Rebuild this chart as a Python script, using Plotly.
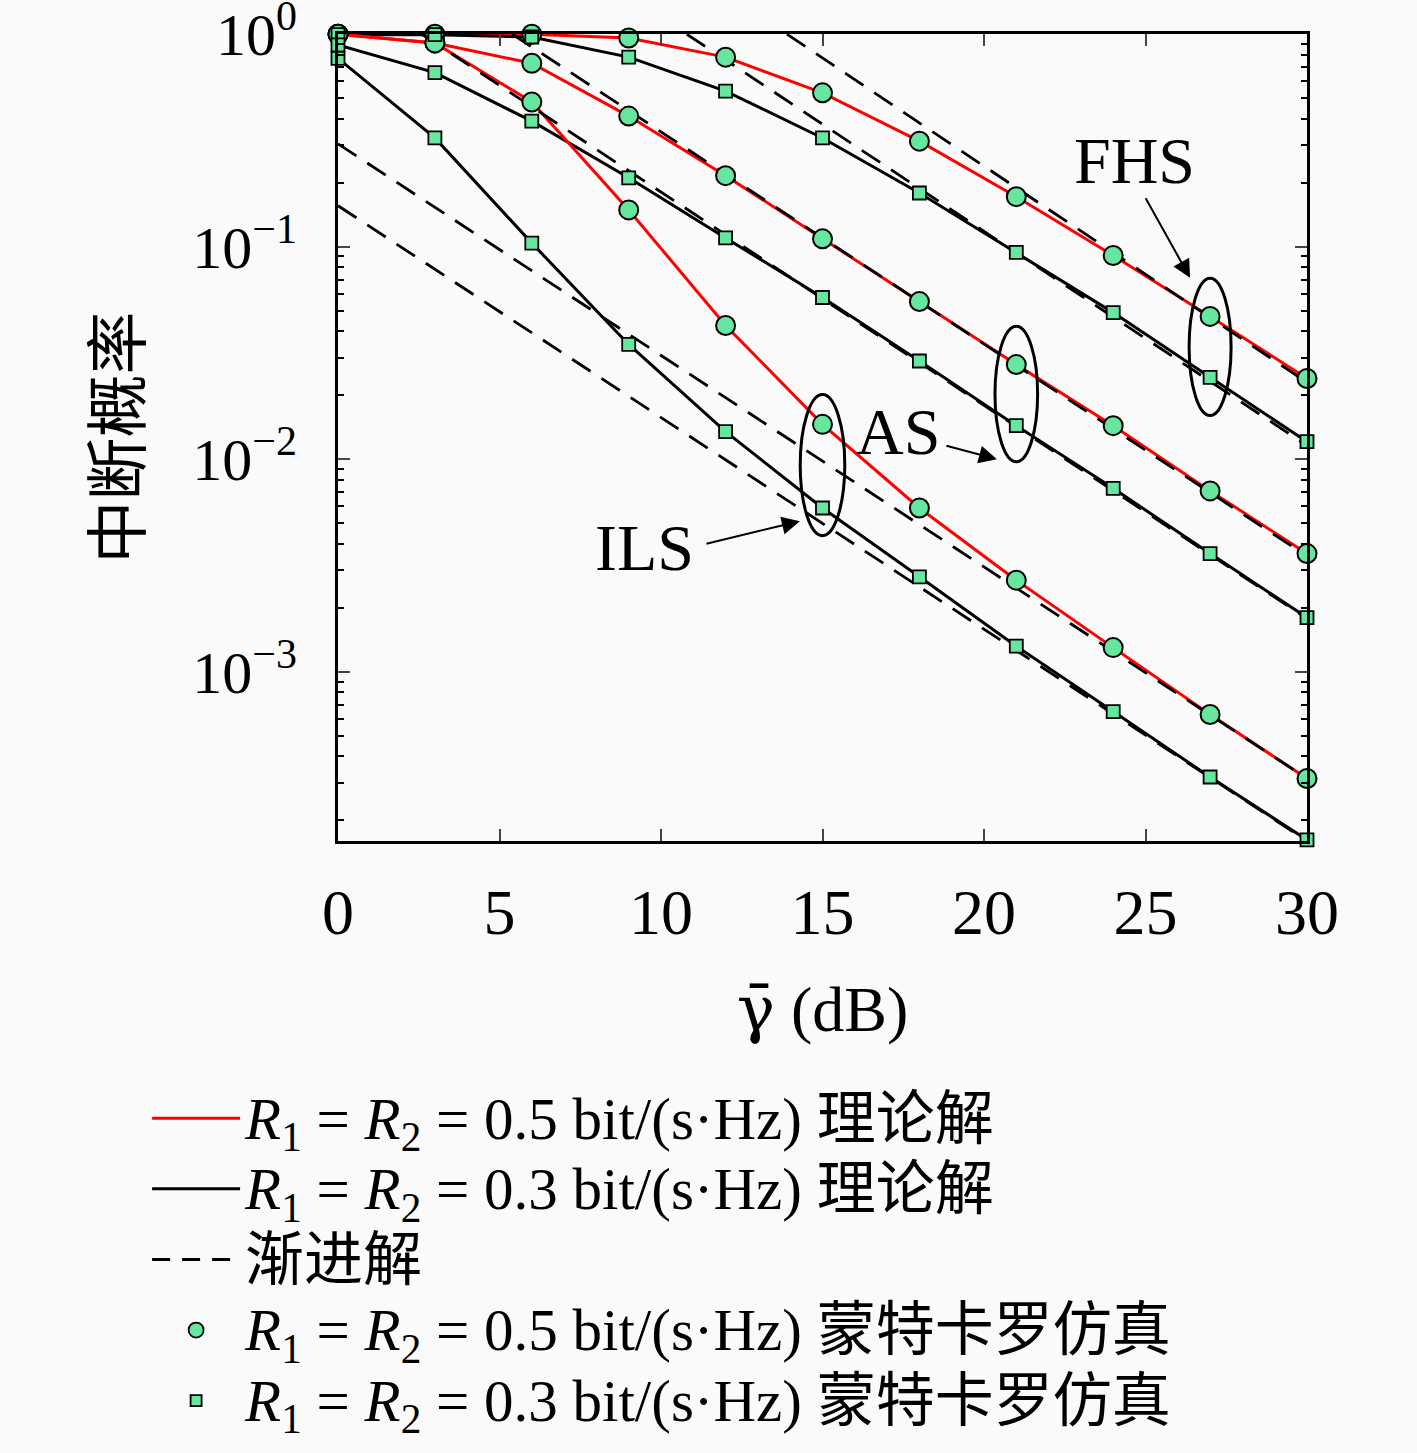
import math
import plotly.graph_objects as go

# ---------------- data ----------------
snr = [0, 3, 6, 9, 12, 15, 18, 21, 24, 27, 30]

fhs_05 = [1.0, 1.0, 1.0, 0.96, 0.78, 0.53, 0.314, 0.172, 0.091, 0.047, 0.024]
fhs_03 = [0.995, 0.995, 0.97, 0.78, 0.54, 0.325, 0.179, 0.094, 0.049, 0.0243, 0.0121]
as_05 = [1.0, 0.91, 0.73, 0.412, 0.216, 0.109, 0.0552, 0.0279, 0.0144, 0.0071, 0.0036]
as_03 = [0.89, 0.66, 0.39, 0.211, 0.110, 0.0577, 0.0290, 0.0144, 0.0073, 0.0036, 0.0018]
ils_05 = [1.0, 0.91, 0.48, 0.149, 0.0426, 0.0146, 0.0059, 0.0027, 0.00130, 0.00063, 0.000315]
ils_03 = [0.77, 0.325, 0.104, 0.0347, 0.0135, 0.0059, 0.0028, 0.00132, 0.00065, 0.00032, 0.000162]

# asymptotes (straight lines on the log scale): start / end points
asym_fhs05_x = [13.9, 30]
asym_fhs05_y = [1.0, 0.0230]
asym_fhs03_x = [10.8, 30]
asym_fhs03_y = [1.0, 0.0116]
asym_as05_x = [5.4, 30]
asym_as05_y = [1.0, 0.0035]
asym_as03_x = [2.6, 30]
asym_as03_y = [1.0, 0.00178]
asym_ils05_x = [0, 30]
asym_ils05_y = [0.305, 0.000315]
asym_ils03_x = [0, 30]
asym_ils03_y = [0.156, 0.000160]

x_ticks = [0, 5, 10, 15, 20, 25, 30]
y_ticks = [1, 0.1, 0.01, 0.001]
y_ticktext = ["10<sup>0</sup>", "10<sup>−1</sup>", "10<sup>−2</sup>", "10<sup>−3</sup>"]
y_minor = [m * 10.0 ** e for e in (-4, -3, -2, -1) for m in range(2, 10)]

lbl_05 = "<i>R</i><sub>1</sub> = <i>R</i><sub>2</sub> = 0.5 bit/(s·Hz)"
lbl_03 = "<i>R</i><sub>1</sub> = <i>R</i><sub>2</sub> = 0.3 bit/(s·Hz)"
legend_names = [lbl_05 + " 理论解", lbl_03 + " 理论解", "渐进解",
                lbl_05 + " 蒙特卡罗仿真", lbl_03 + " 蒙特卡罗仿真"]

# ---------------- style ----------------
RED = "#FF0000"
BLACK = "#000000"
GREEN = "#66E69E"
BG = "#FAFAFA"
FONT = "Liberation Serif, Noto Sans CJK SC, serif"

fig = go.Figure()

# theory curves
for ys, col in [(fhs_05, RED), (fhs_03, BLACK), (as_05, RED), (as_03, BLACK),
                (ils_05, RED), (ils_03, BLACK)]:
    fig.add_trace(go.Scatter(x=snr, y=ys, mode="lines",
                             line=dict(color=col, width=3), showlegend=False))

# asymptotes
for ax_, ay_ in [(asym_fhs05_x, asym_fhs05_y), (asym_fhs03_x, asym_fhs03_y),
                 (asym_as05_x, asym_as05_y), (asym_as03_x, asym_as03_y),
                 (asym_ils05_x, asym_ils05_y), (asym_ils03_x, asym_ils03_y)]:
    fig.add_trace(go.Scatter(x=ax_, y=ay_, mode="lines",
                             line=dict(color=BLACK, width=2.8, dash="22px,13px"),
                             showlegend=False))

# Monte Carlo markers
for ys in [fhs_05, as_05, ils_05]:
    fig.add_trace(go.Scatter(x=snr, y=ys, mode="markers", cliponaxis=False,
                             marker=dict(symbol="circle", size=19, color=GREEN,
                                         line=dict(color=BLACK, width=2)),
                             showlegend=False))
for ys in [fhs_03, as_03, ils_03]:
    fig.add_trace(go.Scatter(x=snr, y=ys, mode="markers", cliponaxis=False,
                             marker=dict(symbol="square", size=13, color=GREEN,
                                         line=dict(color=BLACK, width=1.8)),
                             showlegend=False))

# legend entries (text drawn larger than the row pitch font)
def big(s):
    return "<span style='font-size:59px'>" + s + "</span>"

fig.add_trace(go.Scatter(x=[None], y=[None], mode="lines", name=big(legend_names[0]),
                         line=dict(color=RED, width=3)))
fig.add_trace(go.Scatter(x=[None], y=[None], mode="lines", name=big(legend_names[1]),
                         line=dict(color=BLACK, width=3)))
fig.add_trace(go.Scatter(x=[None], y=[None], mode="lines", name=big(legend_names[2]),
                         line=dict(color=BLACK, width=3, dash="18px,12px")))
fig.add_trace(go.Scatter(x=[None], y=[None], mode="markers", name=big(legend_names[3]),
                         marker=dict(symbol="circle", size=15, color=GREEN,
                                     line=dict(color=BLACK, width=1.8))))
fig.add_trace(go.Scatter(x=[None], y=[None], mode="markers", name=big(legend_names[4]),
                         marker=dict(symbol="square", size=11, color=GREEN,
                                     line=dict(color=BLACK, width=1.8))))

# ellipses around groups (derived from data values; data units on log axis)
def ellipse(i, top_vals, bot_vals, pad_top, pad_bot, half_w):
    return dict(type="circle", xref="x", yref="y",
                x0=snr[i] - half_w, x1=snr[i] + half_w,
                y0=bot_vals[i] * 10 ** (-pad_bot),
                y1=top_vals[i] * 10 ** pad_top,
                line=dict(color=BLACK, width=3))

i27 = snr.index(27)
i21 = snr.index(21)
i15 = snr.index(15)
fig.update_layout(shapes=[
    ellipse(i27, fhs_05, fhs_03, 0.18, 0.18, 0.65),
    ellipse(i21, as_05, as_03, 0.18, 0.17, 0.66),
    ellipse(i15, ils_05, ils_03, 0.14, 0.13, 0.69),
])

# labels and arrows
ann = []
for txt, tx, ty in [("FHS", 24.67, -0.592), ("AS", 17.34, -1.869), ("ILS", 9.5, -2.413)]:
    ann.append(dict(x=tx, y=ty, xref="x", yref="y", text=txt, showarrow=False,
                    font=dict(family=FONT, size=66, color=BLACK)))
for hx, hy, tx, ty in [(26.38, -1.146, 24.98, -0.765),
                       (20.4, -2.0, 18.79, -1.934),
                       (14.3, -2.291, 11.36, -2.399)]:
    ann.append(dict(x=hx, y=hy, ax=tx, ay=ty, xref="x", yref="y", axref="x", ayref="y",
                    text="", showarrow=True, arrowhead=2, arrowsize=1.8, arrowwidth=2,
                    arrowcolor=BLACK))
fig.update_layout(annotations=ann)

fig.update_layout(
    width=1417, height=1453,
    paper_bgcolor=BG, plot_bgcolor=BG,
    margin=dict(l=338, r=110, t=34, b=611),
    font=dict(family=FONT, size=60, color=BLACK),
    xaxis=dict(range=[0, 30], tickvals=x_ticks, ticks="inside", ticklen=12, tickwidth=2,
               showline=True, linewidth=3, linecolor=BLACK, mirror="ticks",
               showgrid=False, zeroline=False, ticklabelstandoff=13, automargin=False,
               tickfont=dict(size=64),
               title=dict(text="<span style='font-family:DejaVu Serif'>γ̄</span> (dB)",
                          font=dict(size=64), standoff=40)),
    yaxis=dict(type="log", range=[math.log10(1.6e-4), 0.001], tickvals=y_ticks,
               ticktext=y_ticktext, ticks="inside", ticklen=12, tickwidth=2,
               showline=True, linewidth=3, linecolor=BLACK, mirror="ticks",
               showgrid=False, zeroline=False, ticklabelstandoff=26, automargin=False,
               ticklabeloverflow="allow", tickfont=dict(size=60),
               minor=dict(tickvals=y_minor, ticks="inside", ticklen=6, tickwidth=2,
                          tickcolor=BLACK, showgrid=False),
               title=dict(text="中断概率", font=dict(size=63), standoff=32)),
    legend=dict(x=-0.197, y=-0.292, xanchor="left", yanchor="top",
                bgcolor="rgba(0,0,0,0)", font=dict(size=52),
                tracegroupgap=0, itemwidth=88),
)

fig.write_html("out.html", config={"displayModeBar": False},
               post_script="document.body.style.margin='0';"
                           "document.body.style.background='#FAFAFA';")
